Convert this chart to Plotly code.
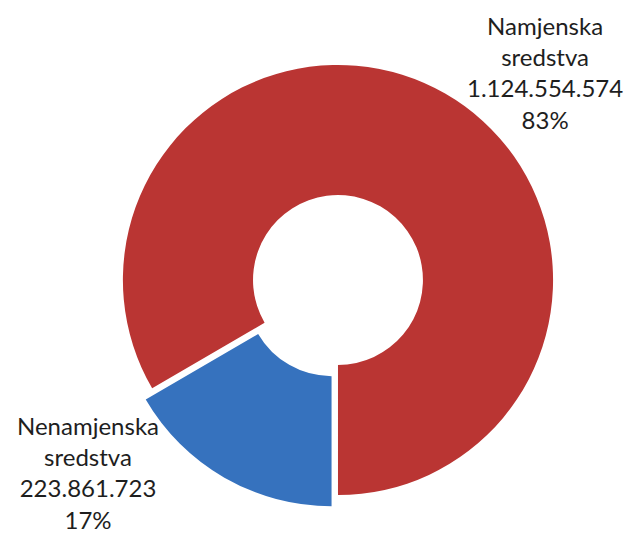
import plotly.graph_objects as go

categories = ["Nenamjenska sredstva", "Namjenska sredstva"]
label_lines = [["Nenamjenska", "sredstva"], ["Namjenska", "sredstva"]]
values = [223861723, 1124554574]
colors = ["#3672BE", "#BA3533"]
pulls = [0.06, 0]

total = sum(values)

def fmt(v):
    return f"{v:,}".replace(",", ".")

texts = [
    "<br>".join(lines + [fmt(v), f"{round(v / total * 100)}%"])
    for lines, v in zip(label_lines, values)
]

fig = go.Figure(
    go.Pie(
        labels=categories,
        values=values,
        hole=0.395,
        sort=False,
        direction="clockwise",
        rotation=180,
        pull=pulls,
        marker=dict(colors=colors, line=dict(width=0)),
        textinfo="none",
        hoverinfo="label+value+percent",
        showlegend=False,
        domain=dict(x=[0.1611, 0.8815], y=[0.0637, 0.9176]),
    )
)

ann_pos = [(0.127, 0.130), (0.849, 0.880)]
for t, (ax, ay) in zip(texts, ann_pos):
    fig.add_annotation(
        text=t, x=ax, y=ay, xref="paper", yref="paper",
        xanchor="center", yanchor="middle", showarrow=False,
        align="center",
        font=dict(family="Lato, Carlito, sans-serif", size=24, color="#1e1e1e"),
    )

fig.update_layout(
    width=633, height=534,
    margin=dict(l=0, r=0, t=0, b=0),
    paper_bgcolor="white", plot_bgcolor="white",
)

fig.write_html("out.html")
